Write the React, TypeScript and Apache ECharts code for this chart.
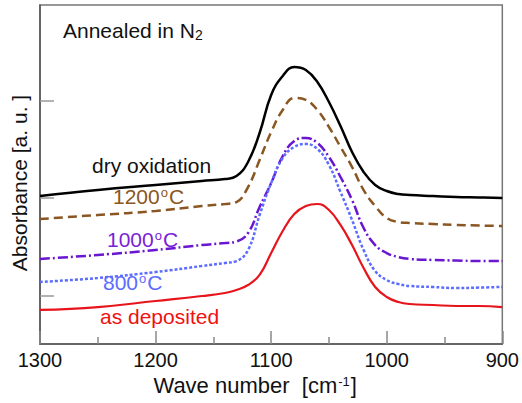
import React, { useEffect, useRef } from "react";
import * as echarts from "echarts";

// Wave number grid (cm^-1), shared by all spectra
const wavenumbers = [1300, 1250, 1200, 1160, 1140, 1130, 1120, 1110, 1100, 1090, 1080, 1070, 1060, 1050, 1040, 1030, 1020, 1010, 1000, 990, 980, 960, 940, 920, 900];

// Absorbance (a.u., offset spectra)
const dryOxidation = [1.518, 1.579, 1.631, 1.672, 1.692, 1.723, 1.867, 2.164, 2.554, 2.749, 2.841, 2.81, 2.687, 2.482, 2.236, 1.969, 1.764, 1.631, 1.569, 1.538, 1.528, 1.518, 1.508, 1.503, 1.497];
const anneal1200 = [1.282, 1.323, 1.364, 1.415, 1.436, 1.456, 1.61, 1.887, 2.174, 2.4, 2.523, 2.503, 2.4, 2.226, 2.021, 1.815, 1.579, 1.415, 1.292, 1.251, 1.241, 1.231, 1.221, 1.215, 1.21];
const anneal1000 = [0.872, 0.913, 0.964, 1.015, 1.036, 1.051, 1.138, 1.405, 1.651, 1.928, 2.082, 2.113, 2.062, 1.918, 1.713, 1.477, 1.19, 1.015, 0.933, 0.892, 0.872, 0.862, 0.856, 0.851, 0.851];
const anneal800 = [0.636, 0.677, 0.738, 0.8, 0.831, 0.851, 0.964, 1.323, 1.651, 1.908, 2.021, 2.051, 2.0, 1.836, 1.559, 1.272, 0.964, 0.749, 0.656, 0.615, 0.595, 0.585, 0.574, 0.579, 0.585];
const asDeposited = [0.349, 0.379, 0.441, 0.492, 0.523, 0.554, 0.605, 0.708, 0.933, 1.159, 1.333, 1.415, 1.436, 1.374, 1.221, 1.015, 0.779, 0.585, 0.482, 0.431, 0.41, 0.4, 0.39, 0.39, 0.379];

const yTickValues = [0.5, 1.5, 2.5];

const FONT = "'Liberation Sans', Arial, sans-serif";

const zip = (ys: number[]) => wavenumbers.map((x, i) => [x, ys[i]]);

export default function App() {
  const ref = useRef<HTMLDivElement>(null);
  useEffect(() => {
    if (!ref.current) return;
    const chart = echarts.init(ref.current, null, { renderer: "svg" });
    const line = (name: string, data: number[], color: string, type: any, width = 2.5) => ({
      name,
      type: "line",
      data: zip(data),
      smooth: 0.45,
      symbol: "none",
      lineStyle: { color, width, type },
      z: 3,
    });
    const sup = (color: string) => ({
      a: { fontSize: 21, fill: color, fontFamily: FONT },
      s: { fontSize: 13, fill: color, fontFamily: FONT, verticalAlign: "top", padding: [0, 1, 8, 1] },
    });
    chart.setOption({
      animation: false,
      backgroundColor: "#fff",
      textStyle: { fontFamily: FONT },
      grid: { left: 40, right: 9, top: 5, bottom: 59, show: true, borderColor: "#777", borderWidth: 1.5 },
      xAxis: {
        type: "value",
        inverse: true,
        min: 900,
        max: 1300,
        interval: 100,
        name: "{a|Wave number  [cm}{s|-1}{a|]}",
        nameLocation: "middle",
        nameGap: 27,
        nameTextStyle: {
          padding: [0, 32, 0, 0],
          rich: {
            a: { fontSize: 22, color: "#111", fontFamily: FONT },
            s: { fontSize: 13, color: "#111", fontFamily: FONT, verticalAlign: "top", padding: [0, 1, 9, 1] },
          },
        },
        axisLine: { show: true, lineStyle: { color: "#555", width: 1.5 } },
        axisTick: { show: true, inside: true, length: 13, lineStyle: { color: "#888", width: 1.5 } },
        minorTick: { show: true, splitNumber: 2, length: 7, lineStyle: { color: "#888", width: 1.5 } },
        axisLabel: { fontSize: 20, color: "#111", margin: 6, fontFamily: FONT, formatter: (v: number) => String(v) },
        splitLine: { show: false },
      },
      yAxis: {
        type: "value",
        min: 0,
        max: 3.477,
        name: "Absorbance [a. u. ]",
        nameLocation: "middle",
        nameGap: 10,
        nameTextStyle: { fontSize: 21, color: "#111", fontFamily: FONT, padding: [0, 0, 0, -17] },
        axisLine: { show: true, lineStyle: { color: "#555", width: 1.5 } },
        axisTick: { show: true, inside: true, length: 14, customValues: yTickValues, lineStyle: { color: "#999", width: 1.5 } },
        axisLabel: { show: false },
        splitLine: { show: false },
      },
      series: [
        line("dry oxidation", dryOxidation, "#000000", "solid", 2.5),
        line("1200", anneal1200, "#8a5622", [9, 5], 2.5),
        line("1000", anneal1000, "#6a16d0", [10, 3, 2, 3], 2.5),
        line("800", anneal800, "#5b6cff", [3, 2], 2.5),
        line("as deposited", asDeposited, "#e8141c", "solid", 2.2),
      ],
      graphic: [
        {
          type: "text", left: 63, top: 20,
          style: {
            text: "{a|Annealed in N}{s|2}",
            rich: {
              a: { fontSize: 21, fill: "#111", fontFamily: FONT },
              s: { fontSize: 14, fill: "#111", fontFamily: FONT, verticalAlign: "bottom", padding: [8, 0, 0, 0] },
            },
          },
        },
        { type: "text", left: 92, top: 155, style: { text: "dry oxidation", fontSize: 21, fill: "#111", fontFamily: FONT } },
        { type: "text", left: 113, top: 186, style: { text: "{a|1200}{s|o}{a|C}", rich: sup("#8a5622") } },
        { type: "text", left: 107, top: 229, style: { text: "{a|1000}{s|o}{a|C}", rich: sup("#7a22d6") } },
        { type: "text", left: 103, top: 272, style: { text: "{a|800}{s|o}{a|C}", rich: sup("#5b6cff") } },
        { type: "text", left: 100, top: 306, style: { text: "as deposited", fontSize: 21, fill: "#ee1111", fontFamily: FONT } },
      ],
    });
    return () => chart.dispose();
  }, []);
  return <div ref={ref} style={{ position: "fixed", left: 0, top: 0, width: 522, height: 403 }} />;
}
